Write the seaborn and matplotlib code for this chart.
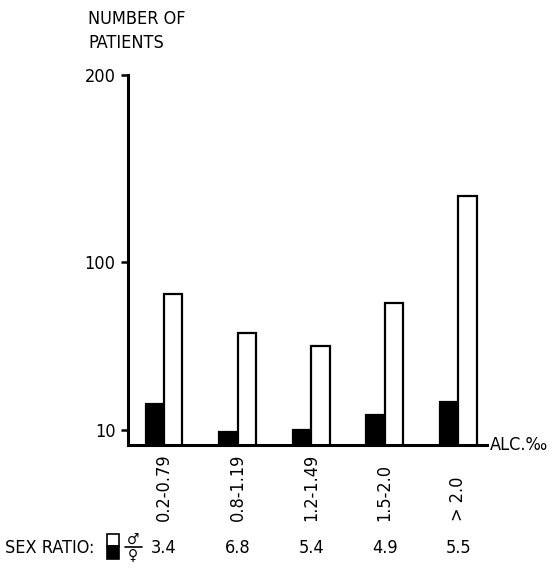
import matplotlib
matplotlib.use("Agg")
import matplotlib.pyplot as plt
import matplotlib.transforms as mtransforms
from matplotlib.patches import Rectangle
from matplotlib.lines import Line2D
import seaborn as sns
import pandas as pd

# Blood alcohol ranges (per mille) and patient counts by sex
alc_ranges = ["0.2-0.79", "0.8-1.19", "1.2-1.49", "1.5-2.0", "> 2.0"]
females = [24, 9, 10, 18, 25]
males = [83, 62, 55, 78, 135]
sex_ratio = ["3.4", "6.8", "5.4", "4.9", "5.5"]
y_ticks = [10, 100, 200]

sns.set_theme(style="white")
plt.rcParams["font.family"] = ["DejaVu Sans"]
plt.rcParams["font.stretch"] = "condensed"

df = pd.DataFrame({
    "range": alc_ranges * 2,
    "count": females + males,
    "sex": ["F"] * len(alc_ranges) + ["M"] * len(alc_ranges),
})

fig = plt.figure(figsize=(5.57, 5.69), dpi=100)
ax = fig.add_axes([128 / 557, 1 - 445 / 569, (487 - 128) / 557, (445 - 75) / 569])

sns.barplot(data=df, x="range", y="count", hue="sex", hue_order=["F", "M"],
            palette={"F": "black", "M": "white"}, edgecolor="black",
            linewidth=1.6, width=0.5, legend=False, ax=ax)

ax.set_ylim(2, 200)
ax.set_xlim(-0.49, 4.39)
ax.set_yticks(y_ticks)
ax.set_yticklabels([str(t) for t in y_ticks], fontsize=13)
ax.set_xticks([])
ax.set_xlabel("")
ax.set_ylabel("")
for side in ("top", "right"):
    ax.spines[side].set_visible(False)
for side in ("left", "bottom"):
    ax.spines[side].set_linewidth(2.2)
    ax.spines[side].set_color("black")
ax.tick_params(axis="y", left=True, direction="out", length=5, width=1.8,
               pad=4, colors="black", labelcolor="black")

# axis titles
fig.text(88 / 557, 1 - 10 / 569, "NUMBER OF\nPATIENTS", ha="left", va="top",
         fontsize=13, linespacing=1.45, color="black")
ax.text(1.008, 0.0, "ALC.‰", transform=ax.transAxes, ha="left", va="center",
        fontsize=13, color="black")

# rotated category labels below each group
tr = mtransforms.blended_transform_factory(ax.transData, fig.transFigure)
for i, lab in enumerate(alc_ranges):
    ax.text(i, 1 - 521 / 569, lab, transform=tr, rotation=90, ha="center",
            va="bottom", fontsize=13, color="black")

# sex ratio row
y_row = 1 - 548 / 569
for i, r in enumerate(sex_ratio):
    ax.text(i, y_row, r, transform=tr, ha="center", va="center",
            fontsize=13, color="black")
fig.text(5 / 557, y_row, "SEX RATIO:", ha="left", va="center", fontsize=13,
         color="black")
fig.patches.append(Rectangle((107 / 557, 1 - 546 / 569), 12 / 557, 12 / 569,
                             transform=fig.transFigure, facecolor="white",
                             edgecolor="black", linewidth=1.2))
fig.patches.append(Rectangle((107 / 557, 1 - 559 / 569), 12 / 557, 13 / 569,
                             transform=fig.transFigure, facecolor="black",
                             edgecolor="black", linewidth=1.2))
fig.lines.append(Line2D([125 / 557, 142 / 557], [1 - 547 / 569, 1 - 547 / 569],
                        transform=fig.transFigure, color="black", linewidth=1.2))
fig.text(133 / 557, 1 - 547 / 569, "♂", ha="center", va="bottom", fontsize=11,
         color="black")
fig.text(133 / 557, 1 - 547 / 569, "♀", ha="center", va="top", fontsize=11,
         color="black")

fig.savefig("out.png", dpi=100, facecolor="white")
